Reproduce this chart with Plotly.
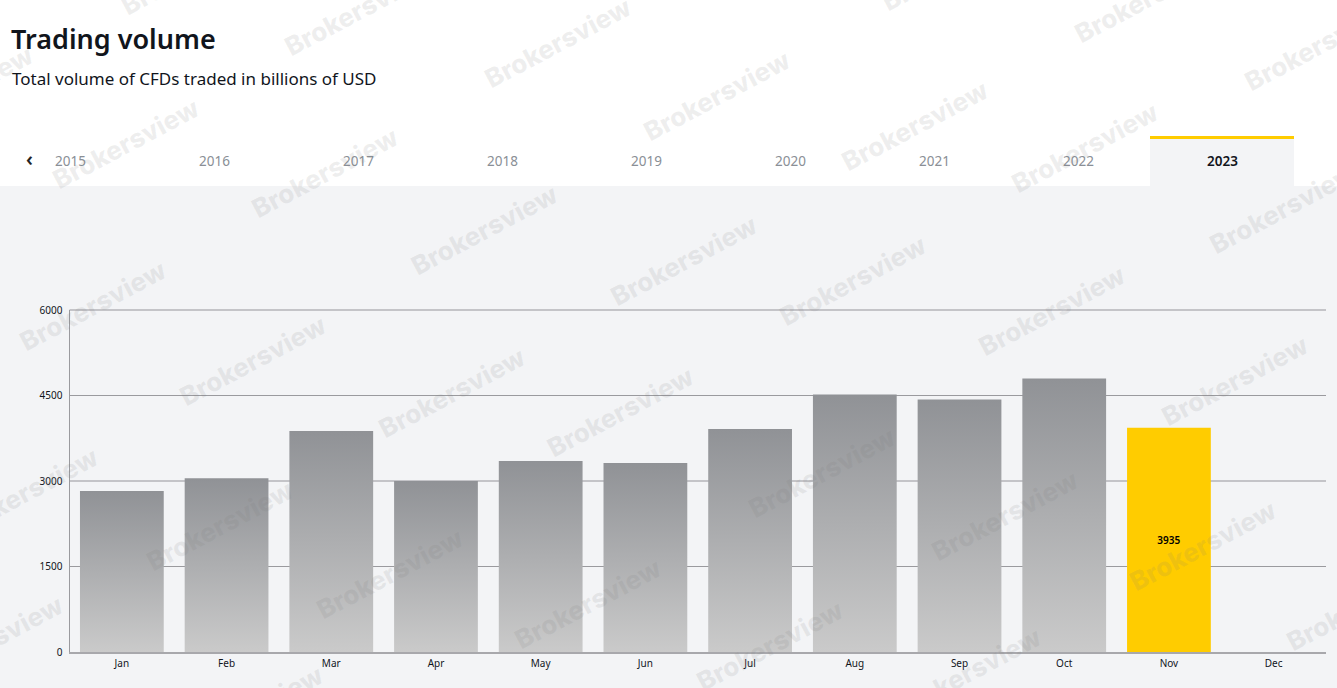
import plotly.graph_objects as go

W = 1337
H = 688

months = ["Jan", "Feb", "Mar", "Apr", "May", "Jun", "Jul", "Aug", "Sep", "Oct", "Nov", "Dec"]
volume = [2825, 3050, 3877, 3000, 3350, 3316, 3912, 4517, 4430, 4798, 3935, None]
y_ticks = [0, 1500, 3000, 4500, 6000]
years = ["2015", "2016", "2017", "2018", "2019", "2020", "2021", "2022", "2023"]
current_month = "Nov"
current_year = "2023"

GREY = "#909296"
YELLOW = "#ffcc00"
PANEL = "#f3f4f6"
FONT = "Noto Sans"

# watermark centres in page pixels
marks = [
    (-40, 90), (195, -30), (358, 10), (558, 42), (717, 95), (915, 125), (1085, 147),
    (955, -35), (1148, -3), (1318, 45), (126, 143), (325, 172), (485, 230), (684, 260),
    (853, 280), (1052, 310), (1283, 208), (93, 305), (253, 360), (452, 392), (621, 412),
    (822, 472), (1005, 515), (1235, 380), (25, 492), (220, 525), (390, 573), (588, 603),
    (770, 645), (968, 672), (1203, 545), (1360, 605), (-10, 640), (250, 710),
]


def px(x):
    return x / W


def py(y):
    return 1 - y / H


def page_text(x, y, text, size, color, anchor="center", weight=400):
    return dict(xref="paper", yref="paper", x=px(x), y=py(y), text=text, showarrow=False,
                xanchor=anchor, yanchor="middle", font=dict(family=FONT, size=size, color=color, weight=weight))


def page_rect(x0, y0, x1, y1, color):
    return dict(type="rect", xref="paper", yref="paper", x0=px(x0), x1=px(x1), y0=py(y0), y1=py(y1),
                fillcolor=color, line_width=0, layer="below")


colors = [YELLOW if m == current_month else GREY for m in months]
labels = ["%d" % v if m == current_month else "" for m, v in zip(months, volume)]

fig = go.Figure(go.Bar(
    x=months, y=volume, width=0.8,
    marker=dict(color=colors, line_width=0),
    text=labels, textposition="inside", insidetextanchor="middle", textangle=0,
    textfont=dict(family=FONT, size=10, color="#000000", weight=600),
    hoverinfo="x+y",
))

y_domain = [py(652), py(310)]

shapes = [page_rect(0, 186, W, H, PANEL), page_rect(1150, 136, 1294, 186, PANEL), page_rect(1150, 136, 1294, 139, YELLOW)]
for t in y_ticks[1:]:
    # the original's lines fall alternately on and between pixels.
    # paper refs so the top one isn't clipped at the plot edge
    thick = t % 3000 == 0
    yp = y_domain[0] + (y_domain[1] - y_domain[0]) * t / y_ticks[-1]
    shapes.append(dict(type="line", xref="paper", yref="paper", x0=px(69.5), x1=px(1326), y0=yp, y1=yp, layer="below",
                       line=dict(color="#c4c4c8" if thick else "#9a9a9e", width=2 if thick else 1)))

annotations = [
    page_text(9, 39, "Trading volume", 27, "#11151c", "left", 600),
    page_text(10, 79, "Total volume of CFDs traded in billions of USD", 17, "#11151c", "left"),
    page_text(29, 159, "‹", 20, "#222222", weight=600),
]
for i, year in enumerate(years):
    active = year == current_year
    annotations.append(page_text(70 + 144 * i, 161, year, 13.5, "#11151c" if active else "#8a8f96", weight=600 if active else 400))
for x, y in marks:
    note = page_text(x, y, "Brokersview", 26, "rgba(120,120,120,0.12)", weight=800)
    note["font"]["family"] = "Inter"
    note["textangle"] = -28
    annotations.append(note)

fig.update_layout(
    width=W, height=H, margin=dict(l=0, r=0, t=0, b=0),
    paper_bgcolor="#ffffff", plot_bgcolor="rgba(0,0,0,0)", showlegend=False,
    font=dict(family=FONT, size=10, color="#11151c"),
    shapes=shapes, annotations=annotations,
    xaxis=dict(domain=[px(69.5), px(1326)], range=[-0.5, 11.5], type="category", showgrid=False, zeroline=False, automargin=False,
               showline=True, linecolor="#a8a8ac", linewidth=2, ticks="outside", ticklen=1, tickcolor="rgba(0,0,0,0)"),
    yaxis=dict(domain=y_domain, range=[0, 6000], tickvals=y_ticks, showgrid=False, zeroline=False, automargin=False,
               showline=True, linecolor="#9a9a9e", linewidth=1, ticks="outside", ticklen=4, tickcolor="rgba(0,0,0,0)"),
)

# plotly bars have no gradient fill, so add one to the grey bars once they are drawn
post_script = """
document.body.style.margin = '0';
document.body.style.overflow = 'hidden';
var gd = document.getElementById('{plot_id}');
var svg = gd.querySelector('svg.main-svg');
var ns = 'http://www.w3.org/2000/svg';
var defs = document.createElementNS(ns, 'defs');
defs.innerHTML = '<linearGradient id="barfade" x1="0" y1="0" x2="0" y2="1">' +
    '<stop offset="0" stop-color="#909296"/><stop offset="1" stop-color="#cacaca"/></linearGradient>';
svg.insertBefore(defs, svg.firstChild);
gd.querySelectorAll('.bars .point path').forEach(function (p) {
    if (p.style.fill.indexOf('255, 204, 0') < 0) { p.style.fill = 'url(#barfade)'; }
});
"""

fig.write_html("out.html", post_script=post_script, config=dict(displayModeBar=False))
